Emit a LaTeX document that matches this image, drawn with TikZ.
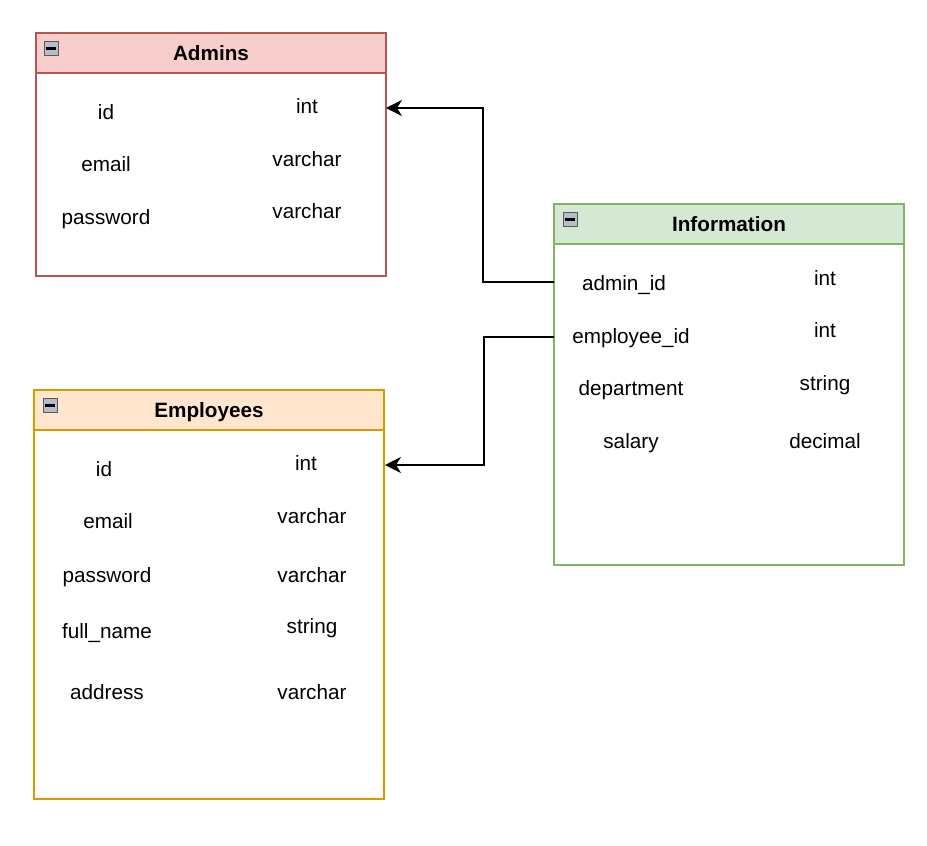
\documentclass[tikz,border=0pt]{standalone}
\usepackage{fontspec}
\setmainfont{Liberation Sans}
\usetikzlibrary{arrows.meta}
\definecolor{redfill}{HTML}{F8CECC}
\definecolor{redline}{HTML}{B85450}
\definecolor{greenfill}{HTML}{D5E8D4}
\definecolor{greenline}{HTML}{82B366}
\definecolor{orangefill}{HTML}{FFE6CC}
\definecolor{orangeline}{HTML}{D79B00}
\definecolor{icongray}{HTML}{B8BCC4}
\tikzset{
  tbl/.style={line width=1.5pt, anchor=north west, inner sep=0pt, outer sep=0pt, minimum width=350pt},
  hdr/.style={line width=1.5pt, anchor=north west, inner sep=0pt, outer sep=0pt, minimum width=350pt, minimum height=40pt},
  fld/.style={anchor=base, inner sep=0pt, font=\fontsize{20.7}{24}\selectfont},
  ttl/.style={anchor=base, inner sep=0pt, font=\fontsize{20.7}{24}\selectfont\bfseries},
  icon/.style={draw=gray!70!black, fill=icongray, line width=0.8pt, minimum size=14pt, inner sep=0pt},
  minus/.style={line width=2.4pt},
  link/.style={line width=1.5pt, -{Stealth[length=16pt,width=16pt,inset=5pt]}},
}
\begin{document}
\begin{tikzpicture}[x=1pt,y=-1pt]
\useasboundingbox (0,0) rectangle (927,846);
% Admins
\node[tbl, draw=redline, minimum height=243pt] (admins) at (36,33) {};
\node[hdr, draw=redline, fill=redfill] (adminshdr) at (36,33) {};
\node[icon] (adminsicon) at (51,48.5) {};
\draw[minus] (adminsicon.center) ++(-5,0) -- ++(10,0);
\node[ttl] (adminst) at (211,60) {Admins};
\node[fld] (a1) at (106,119) {id};
\node[fld] (a2) at (106,171) {email};
\node[fld] (a3) at (106,224) {password};
\node[fld] (a1t) at (307,113) {int};
\node[fld] (a2t) at (307,166) {varchar};
\node[fld] (a3t) at (307,218) {varchar};
% Information
\node[tbl, draw=greenline, minimum height=361pt] (info) at (554,204) {};
\node[hdr, draw=greenline, fill=greenfill] (infohdr) at (554,204) {};
\node[icon] (infoicon) at (570,219.5) {};
\draw[minus] (infoicon.center) ++(-5,0) -- ++(10,0);
\node[ttl] (infot) at (729,231) {Information};
\node[fld] (i1) at (624,290) {admin\_id};
\node[fld] (i2) at (631,343) {employee\_id};
\node[fld] (i3) at (631,395) {department};
\node[fld] (i4) at (631,448) {salary};
\node[fld] (i1t) at (825,285) {int};
\node[fld] (i2t) at (825,337) {int};
\node[fld] (i3t) at (825,390) {string};
\node[fld] (i4t) at (825,448) {decimal};
% Employees
\node[tbl, draw=orangeline, minimum height=409pt] (emp) at (34,390) {};
\node[hdr, draw=orangeline, fill=orangefill] (emphdr) at (34,390) {};
\node[icon] (empicon) at (50,405.5) {};
\draw[minus] (empicon.center) ++(-5,0) -- ++(10,0);
\node[ttl] (empt) at (209,417) {Employees};
\node[fld] (e1) at (104,476) {id};
\node[fld] (e2) at (108,528) {email};
\node[fld] (e3) at (107,582) {password};
\node[fld] (e4) at (107,638) {full\_name};
\node[fld] (e5) at (107,699) {address};
\node[fld] (e1t) at (306,470) {int};
\node[fld] (e2t) at (312,523) {varchar};
\node[fld] (e3t) at (312,582) {varchar};
\node[fld] (e4t) at (312,633) {string};
\node[fld] (e5t) at (312,699) {varchar};
% connector anchors
\coordinate (infoA) at (554,282);
\coordinate (infoE) at (554,337);
\coordinate (adminsIn) at (386,108);
\coordinate (empIn) at (385,465);
\draw[link] (infoA) -- (483,282) -- (483,108) -- (adminsIn);
\draw[link] (infoE) -- (484,337) -- (484,465) -- (empIn);
\end{tikzpicture}
\end{document}
